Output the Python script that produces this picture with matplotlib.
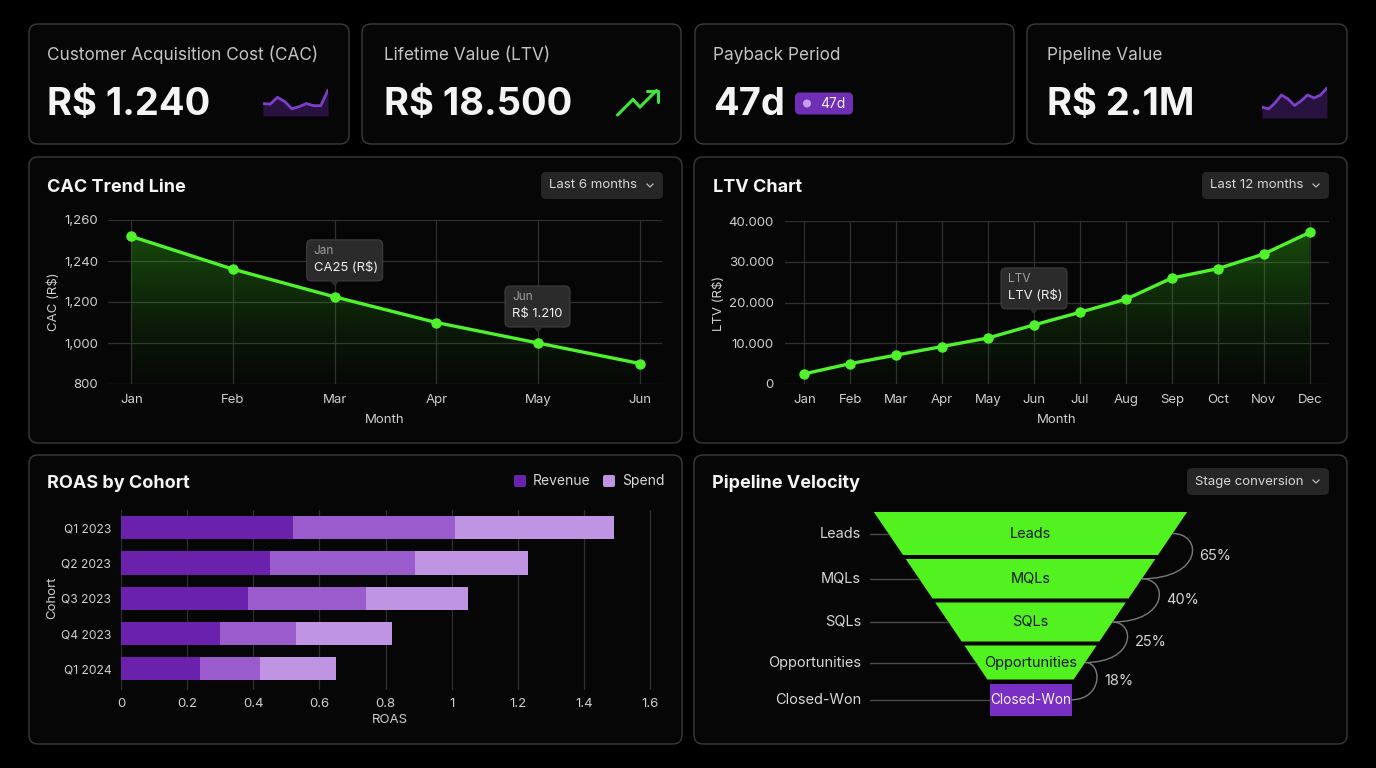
import numpy as np
import matplotlib

matplotlib.use("Agg")
import matplotlib.pyplot as plt
from matplotlib.patches import FancyBboxPatch, Polygon, Rectangle, Circle, PathPatch
from matplotlib.path import Path
from matplotlib.ticker import FixedLocator, FuncFormatter
from matplotlib.transforms import ScaledTranslation

plt.rcParams["font.family"] = ["Inter", "DejaVu Sans"]

W, H = 1376, 768

# ---- data -------------------------------------------------------------
kpi_labels = ["Customer Acquisition Cost (CAC)", "Lifetime Value (LTV)", "Payback Period", "Pipeline Value"]
kpi_values = ["R$ 1.240", "R$ 18.500", "47d", "R$ 2.1M"]
payback_badge = "47d"
cac_spark = [12, 11.5, 18, 14, 7, 9, 12, 10, 10, 25]
pipeline_spark = [11, 9, 15, 23, 19, 12.5, 17, 23, 20, 23, 30]

cac_months = ["Jan", "Feb", "Mar", "Apr", "May", "Jun"]
cac_values = [1252, 1232, 1205, 1100, 1000, 900]
cac_ticks = [800, 1000, 1200, 1240, 1260]

ltv_months = ["Jan", "Feb", "Mar", "Apr", "May", "Jun", "Jul", "Aug", "Sep", "Oct", "Nov", "Dec"]
ltv_values = [2500, 5000, 7100, 9200, 11300, 14500, 17600, 20800, 26000, 28300, 31900, 37200]
ltv_ticks = [0, 10000, 20000, 30000, 40000]

cohorts = ["Q1 2023", "Q2 2023", "Q3 2023", "Q4 2023", "Q1 2024"]
roas_revenue = [0.52, 0.45, 0.385, 0.30, 0.24]
roas_mid = [0.49, 0.44, 0.355, 0.23, 0.18]
roas_spend = [0.48, 0.34, 0.31, 0.29, 0.23]
roas_ticks = [0, 0.2, 0.4, 0.6, 0.8, 1.0, 1.2, 1.4, 1.6]

stages = ["Leads", "MQLs", "SQLs", "Opportunities", "Closed-Won"]
stage_conversion = ["65%", "40%", "25%", "18%"]

# ---- style ------------------------------------------------------------
BG = "#000000"
CARD = "#060606"
EDGE = "#3b3b3b"
GRID = "#2f2f2f"
TXT = "#f4f4f4"
MUTED = "#c4c4c4"
TICK = "#d0d0d0"
GREEN = "#4ff22c"
FUNNEL = "#52f220"
P1, P2, P3 = "#6a22ad", "#9a5ccc", "#bf95e3"
SPARK = "#7d3fc8"
SPARK_FILL = "#28123f"
TIP = "#2b2b2b"

fig = plt.figure(figsize=(W / 100, H / 100), dpi=100)
fig.patch.set_facecolor(BG)
bg = fig.add_axes([0, 0, 1, 1])
bg.set_xlim(0, W)
bg.set_ylim(H, 0)
bg.axis("off")


def px_axes(x0, y0, x1, y1):
    ax = fig.add_axes([x0 / W, 1 - y1 / H, (x1 - x0) / W, (y1 - y0) / H])
    ax.set_facecolor("none")
    return ax


def card(x0, y0, x1, y1):
    bg.add_patch(FancyBboxPatch((x0, y0), x1 - x0, y1 - y0, boxstyle="round,pad=0,rounding_size=9",
                                fc=CARD, ec=EDGE, lw=1.0))


def dropdown(x0, y0, x1, y1, label):
    bg.add_patch(FancyBboxPatch((x0, y0), x1 - x0, y1 - y0, boxstyle="round,pad=0,rounding_size=5",
                                fc="#262626", ec="none"))
    cy = (y0 + y1) / 2
    bg.text(x0 + 8, cy, label, color="#d6d6d6", fontsize=9.5, va="center", ha="left")
    cx = x1 - 13
    bg.plot([cx - 3, cx, cx + 3], [cy - 1.5, cy + 1.5, cy - 1.5], color="#bbbbbb", lw=0.9)


def style_axes(ax):
    for s in ax.spines.values():
        s.set_visible(False)
    ax.tick_params(colors=TICK, labelsize=9.5, length=0)
    ax.grid(color=GRID, lw=0.9)
    ax.set_axisbelow(True)


def gradient_fill(ax, x, y, base):
    poly = ax.fill_between(x, y, base, color="none")
    ramp = np.linspace(0, 1, 256).reshape(-1, 1)
    rgba = np.zeros((256, 1, 4))
    rgba[..., 0], rgba[..., 1], rgba[..., 2] = 0.22, 0.8, 0.1
    rgba[..., 3] = 0.02 + 0.36 * ramp[:, 0:1] ** 1.3
    im = ax.imshow(rgba, extent=(0, 1, 0, 1), transform=ax.transAxes, aspect="auto", origin="lower", zorder=1)
    im.set_clip_path(poly.get_paths()[0], transform=ax.transData)


def tooltip(ax, x, y, head, body, dx, width):
    # box drawn in pixel offsets from the data point
    tr = ScaledTranslation(x, y, ax.transData)
    ax.add_patch(FancyBboxPatch((dx, 16), width, 41, boxstyle="round,pad=0,rounding_size=5", fc=TIP,
                                ec="#3e3e3e", lw=0.8, transform=tr, clip_on=False, zorder=7))
    ax.add_patch(Polygon([(-5, 16.5), (5, 16.5), (0, 10.5)], closed=True, fc=TIP, ec="none", transform=tr,
                         clip_on=False, zorder=7))
    kw = dict(xy=(x, y), textcoords="offset pixels", ha="left", va="center", zorder=8, annotation_clip=False)
    ax.annotate(head, xytext=(dx + 7, 46), color="#9c9c9c", fontsize=8.5, **kw)
    ax.annotate(body, xytext=(dx + 7, 29), color="#f0f0f0", fontsize=9.4, **kw)


# ---- cards ------------------------------------------------------------
kpi_boxes = [(29, 24, 349, 144), (362, 24, 681, 144), (695, 24, 1014, 144), (1027, 24, 1347, 144)]
kpi_text_x = [47, 384, 713, 1047]
for box, tx, lab, val in zip(kpi_boxes, kpi_text_x, kpi_labels, kpi_values):
    card(*box)
    bg.text(tx, 55, lab, color=MUTED, fontsize=12.4, va="center", ha="left")
    bg.text(tx, 105, val, color=TXT, fontsize=27.4, fontweight="bold", va="center", ha="left")

for box in [(29, 157, 682, 443), (694, 157, 1347, 443), (29, 455, 682, 744), (694, 455, 1347, 744)]:
    card(*box)

# sparklines
for (x0, y0, x1, y1), vals, top in [((263, 87, 328, 116), cac_spark, 28), ((1262, 87, 1327, 118), pipeline_spark, 31)]:
    sp = px_axes(x0, y0, x1, y1)
    xs = np.arange(len(vals))
    sp.fill_between(xs, vals, 0, color=SPARK_FILL, lw=0)
    sp.plot(xs, vals, color=SPARK, lw=2.0, solid_capstyle="round")
    sp.set_xlim(0, len(vals) - 1)
    sp.set_ylim(0, top)
    sp.axis("off")

# trend arrow icon
bg.plot([617.5, 633, 640, 656.5], [115, 99.5, 107, 90.5], color="#3ce63a", lw=2.2, solid_capstyle="round",
        solid_joinstyle="miter")
bg.plot([646.5, 657.5, 657.5], [90.5, 90.5, 101.5], color="#3ce63a", lw=2.2, solid_capstyle="round")

# payback badge
bg.add_patch(FancyBboxPatch((795, 92.5), 58, 22, boxstyle="round,pad=0,rounding_size=5", fc="#6f2fb5", ec="none"))
bg.add_patch(Circle((807, 103.5), 4, fc="#c7a0f2", ec="none"))
bg.text(820, 103.5, payback_badge, color="#f3ecff", fontsize=10, va="center", ha="left")

# panel titles
for x, y, t in [(47, 187, "CAC Trend Line"), (713, 187, "LTV Chart"), (47, 483, "ROAS by Cohort"),
                (712, 483, "Pipeline Velocity")]:
    bg.text(x, y, t, color=TXT, fontsize=13, fontweight="bold", va="center", ha="left")

dropdown(541, 172, 663, 199, "Last 6 months")
dropdown(1202, 172, 1329, 199, "Last 12 months")
dropdown(1187, 468, 1329, 495, "Stage conversion")

# ---- CAC trend --------------------------------------------------------
ax = px_axes(108, 220, 662, 384)
steps = np.arange(len(cac_ticks))
ax.set_yscale("function", functions=(lambda v: np.interp(v, cac_ticks, steps),
                                     lambda p: np.interp(p, steps, cac_ticks)))
xc = np.arange(len(cac_months))
gradient_fill(ax, xc, cac_values, cac_ticks[0])
ax.plot(xc, cac_values, color=GREEN, lw=2.4, marker="o", ms=6.5, zorder=5, clip_on=False)
ax.yaxis.set_major_locator(FixedLocator(cac_ticks))
ax.yaxis.set_major_formatter(FuncFormatter(lambda v, p: f"{v:,.0f}"))
ax.set_xticks(xc, cac_months)
ax.set_xlim(-0.23, len(cac_months) - 1 + 0.22)
ax.set_ylim(cac_ticks[0], cac_ticks[-1])
style_axes(ax)
ax.tick_params(axis="y", pad=7)
ax.tick_params(axis="x", pad=7)
tooltip(ax, 2, cac_values[2], "Jan", "CA25 (R$)", dx=-28, width=76)
tooltip(ax, 4, cac_values[4], "Jun", "R$ 1.210", dx=-33, width=65)
bg.text(54, 302, "CAC (R$)", color=TICK, fontsize=9.5, rotation=90, va="center", ha="center")
bg.text(385, 420, "Month", color=TICK, fontsize=9.5, va="center", ha="center")

# ---- LTV chart --------------------------------------------------------
ax = px_axes(785, 221, 1329, 384)
xl = np.arange(len(ltv_months))
gradient_fill(ax, xl, ltv_values, 0)
ax.plot(xl, ltv_values, color=GREEN, lw=2.4, marker="o", ms=6.5, zorder=5, clip_on=False)
ax.set_yticks(ltv_ticks)
ax.yaxis.set_major_formatter(FuncFormatter(lambda v, p: f"{v:,.0f}".replace(",", ".")))
ax.set_xticks(xl, ltv_months)
ax.set_xlim(-0.42, len(ltv_months) - 1 + 0.42)
ax.set_ylim(ltv_ticks[0], ltv_ticks[-1])
style_axes(ax)
ax.tick_params(axis="y", pad=8)
ax.tick_params(axis="x", pad=7)
tooltip(ax, 5, ltv_values[5], "LTV", "LTV (R$)", dx=-33, width=66)
bg.text(719, 303, "LTV (R$)", color=TICK, fontsize=9.5, rotation=90, va="center", ha="center")
bg.text(1057, 420, "Month", color=TICK, fontsize=9.5, va="center", ha="center")

# ---- ROAS by cohort ---------------------------------------------------
ax = px_axes(121, 510, 660, 690)
yb = np.arange(len(cohorts))
left = np.zeros(len(cohorts))
for vals, col in [(roas_revenue, P1), (roas_mid, P2), (roas_spend, P3)]:
    ax.barh(yb, vals, left=left, height=0.66, color=col, lw=0, zorder=3)
    left += np.array(vals)
ax.set_yticks(yb, cohorts)
ax.set_xticks(roas_ticks)
ax.xaxis.set_major_formatter(FuncFormatter(lambda v, p: f"{v:g}"))
ax.set_xlim(0, 1.63)
ax.set_ylim(len(cohorts) - 0.4, -0.5)
style_axes(ax)
ax.grid(axis="y", visible=False)
ax.tick_params(axis="y", pad=7, labelsize=8.7)
ax.tick_params(axis="x", pad=6)
bg.text(390, 720, "ROAS", color=TICK, fontsize=9.5, va="center", ha="center")
bg.text(52, 598, "Cohort", color=TICK, fontsize=9.5, rotation=90, va="center", ha="center")
for x, col, lab in [(514, P1, "Revenue"), (603, P3, "Spend")]:
    bg.add_patch(FancyBboxPatch((x, 475), 12, 12, boxstyle="round,pad=0,rounding_size=2", fc=col, ec="none"))
    bg.text(x + 19, 481, lab, color="#d8d8d8", fontsize=10, va="center", ha="left")

# ---- pipeline funnel --------------------------------------------------
ax = px_axes(700, 505, 1340, 725)
ax.set_xlim(700 - 1030.5, 1340 - 1030.5)
ax.set_ylim(725, 505)
ax.axis("off")
edges = [510, 557, 600.5, 643.5, 681.5, 718]


def half_width(y):
    return (316 - (y - 510) * 1.356) / 2


centers = []
rights = []
for i, name in enumerate(stages):
    top, bot = edges[i] + 2, edges[i + 1] - 2
    yc = (top + bot) / 2
    centers.append(yc)
    if i < len(stages) - 1:
        ax.add_patch(Polygon([(-half_width(top), top), (half_width(top), top), (half_width(bot), bot),
                              (-half_width(bot), bot)], closed=True, fc=FUNNEL, ec="none"))
        inner, r, fs = "#161616", half_width(yc), 10.5
    else:
        ax.add_patch(Rectangle((-41, top), 82, bot - top, fc="#7a2fc4", ec="none"))
        inner, r, fs = "#f0f0f0", 41, 9.8
    rights.append(r)
    ax.text(0, yc, name, color=inner, fontsize=fs, ha="center", va="center")
    ax.text(-169.5, yc, name, color="#d6d6d6", fontsize=10.5, ha="right", va="center")
    ax.plot([-161, -r], [yc, yc], color="#4a4a4a", lw=1.0)

for i, pct in enumerate(stage_conversion):
    y1, y2, r1, r2 = centers[i], centers[i + 1], rights[i], rights[i + 1]
    bulge = r1 + 19 - 2.5 * i
    c = (bulge - 0.125 * (r1 + r2)) / 0.75
    path = Path([(r1, y1), (c, y1), (c, y2), (r2, y2)], [Path.MOVETO, Path.CURVE4, Path.CURVE4, Path.CURVE4])
    ax.add_patch(PathPatch(path, fc="none", ec="#7a7a7a", lw=1.0))
    ax.text(bulge + 8, (y1 + y2) / 2, pct, color="#d6d6d6", fontsize=10.5, ha="left", va="center")

fig.savefig("out.png", dpi=100, facecolor=BG)
